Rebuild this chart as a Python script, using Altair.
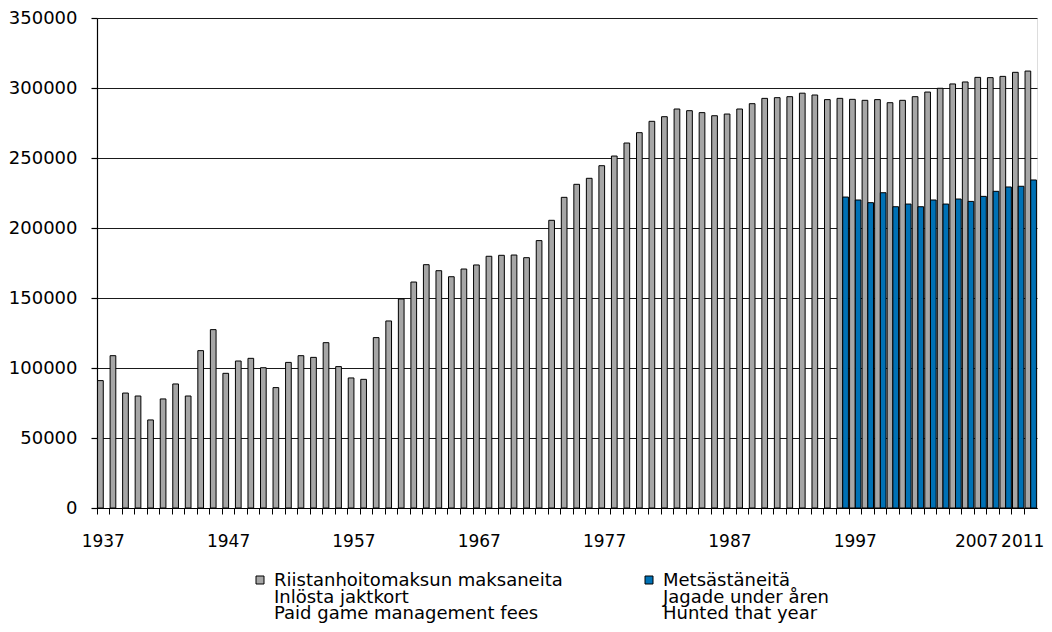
import altair as alt
import pandas as pd

years = list(range(1937, 2012))
paid = [
    91000, 108800, 82100, 80000, 62900, 77900, 88600, 80000, 112400, 127400,   # 1937-1946
    96200, 105000, 106900, 100200, 86000, 104000, 108800, 107600, 118100, 101000,  # 1947-1956
    92900, 91900, 121700, 133600, 149300, 161400, 173800, 169500, 165200, 170700,  # 1957-1966
    173600, 179800, 180500, 180700, 178800, 191000, 205500, 221900, 231200, 235500,  # 1967-1976
    244500, 251400, 260700, 268100, 276200, 279500, 285000, 283800, 282400, 280200,  # 1977-1986
    281400, 285000, 288800, 292600, 293100, 293800, 296300, 295000, 291700, 292600,  # 1987-1996
    291900, 291200, 291700, 289500, 291200, 293800, 297100, 299800, 302900, 304300,  # 1997-2006
    307600, 307400, 308300, 311200, 312100,  # 2007-2011
]
hunted_years = list(range(1996, 2012))
hunted = [
    222100, 220000, 218100, 225200, 215200, 217100, 215200, 220000,
    217100, 220700, 219000, 222600, 226200, 229300, 229800, 234300,
]

S1 = "Riistanhoitomaksun maksaneita\nInlösta jaktkort\nPaid game management fees"
S2 = "Metsästäneitä\nJagade under åren\nHunted that year"
series_names = [S1, S2]
series_colors = ["#a6a6a6", "#0071b5"]
shown_years = [1937, 1947, 1957, 1967, 1977, 1987, 1997, 2007, 2011]
y_ticks = list(range(0, 350001, 50000))

rows = [{"year": y, "series": S1, "value": v} for y, v in zip(years, paid)]
rows += [{"year": y, "series": S2, "value": v} for y, v in zip(hunted_years, hunted)]
df = pd.DataFrame(rows)

FONT = "DejaVu Sans"
W, H = 940, 490

label_expr = "indexof(" + str(shown_years) + ", datum.value) >= 0 ? datum.label : ''"

chart = alt.Chart(df).mark_bar(stroke="black", strokeWidth=1).encode(
    x=alt.X(
        "year:O",
        scale=alt.Scale(paddingInner=0, paddingOuter=0),
        axis=alt.Axis(
            title=None, labelAngle=0, bandPosition=0,
            labelExpr=label_expr, labelFont=FONT, labelFontSize=17, labelColor="black",
            labelOffset={
                "condition": [
                    {"test": "datum.value == 2011", "value": -8},
                    {"test": "datum.value == 2007", "value": -4},
                ],
                "value": 0,
            },
            tickColor="black", tickSize=6, tickWidth=1, labelPadding=19,
            domainColor="black", domainWidth=1.2, grid=False, labelOverlap=False,
        ),
    ),
    xOffset=alt.XOffset(
        "series:N",
        scale=alt.Scale(domain=series_names, paddingInner=0, paddingOuter=0.1),
    ),
    y=alt.Y(
        "value:Q",
        scale=alt.Scale(domain=[0, 350000], nice=False),
        axis=alt.Axis(
            title=None, values=y_ticks, format="d", labelFont=FONT, labelFontSize=18,
            labelColor="black", tickColor="black", tickSize=6, tickWidth=1.2,
            labelPadding=14, domainColor="black", domainWidth=1.2,
            gridColor="#1a1a1a", gridWidth=1.2,
        ),
    ),
    color=alt.Color(
        "series:N",
        scale=alt.Scale(domain=series_names, range=series_colors),
        legend=alt.Legend(
            title=None, orient="none", legendX=154, legendY=545,
            direction="horizontal", columns=2, columnPadding=77,
            symbolType="M-1,1L1,1L1,3L-1,3Z", symbolSize=64, symbolStrokeColor="black",
            symbolStrokeWidth=1, symbolOpacity=1,
            labelExpr="split(datum.label, '\\n')", labelFont=FONT,
            labelFontSize=18, labelColor="black", labelLimit=500,
            labelBaseline="top", padding=0, labelOffset=5,
        ),
    ),
).properties(
    width=W, height=H,
    autosize=alt.AutoSizeParams(type="none"),
    padding={"left": 89, "top": 10, "right": 7, "bottom": 116},
).configure_view(stroke=None).configure(
    background="white",
    style={"guide-label": {"lineHeight": 16.5}},
)

chart.save("out.html", embed_options={"renderer": "svg", "actions": False})
